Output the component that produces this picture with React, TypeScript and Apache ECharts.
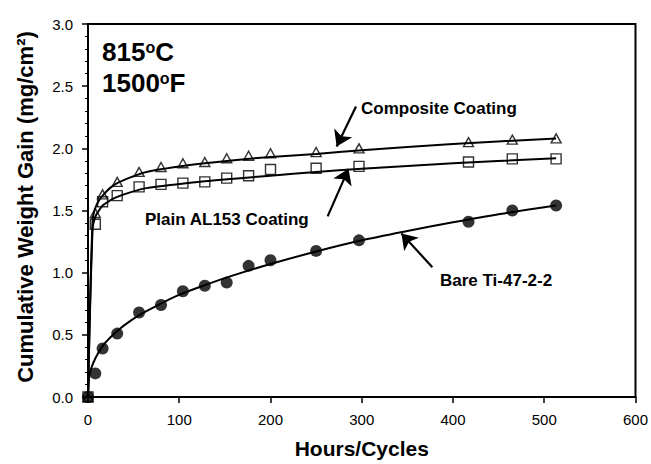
import React, { useEffect, useRef } from "react";
import * as echarts from "echarts";

// Measured points (hours/cycles)
const hours = [0, 8, 16, 32, 56, 80, 104, 128, 152, 176, 200, 250, 297, 417, 465, 513];
const composite = [0, 1.48, 1.63, 1.73, 1.81, 1.85, 1.88, 1.89, 1.92, 1.94, 1.96, 1.97, 2.0, 2.05, 2.07, 2.08];
const plain = [0, 1.39, 1.57, 1.62, 1.69, 1.71, 1.72, 1.73, 1.76, 1.78, 1.83, 1.84, 1.855, 1.89, 1.915, 1.915];
const bare = [0, 0.19, 0.39, 0.51, 0.68, 0.74, 0.85, 0.895, 0.92, 1.055, 1.1, 1.175, 1.26, 1.41, 1.5, 1.54];

// Fitted curves
const coatFitHours = [0, 5, 8, 12, 16, 24, 32, 48, 64, 96, 128, 160, 200, 250, 300, 400, 513];
const compositeFit = [0, 1.42, 1.52, 1.58, 1.62, 1.68, 1.72, 1.77, 1.81, 1.85, 1.88, 1.905, 1.93, 1.955, 1.985, 2.035, 2.08];
const plainFit = [0, 1.35, 1.45, 1.5, 1.54, 1.58, 1.61, 1.65, 1.68, 1.71, 1.735, 1.755, 1.78, 1.81, 1.835, 1.88, 1.92];
const bareFitHours = [0, 1, 2, 4, 8, 16, 32, 48, 64, 96, 128, 160, 200, 250, 300, 350, 400, 450, 513];
const bareFit = [0, 0.14, 0.19, 0.24, 0.31, 0.41, 0.53, 0.62, 0.69, 0.81, 0.9, 0.98, 1.07, 1.17, 1.26, 1.335, 1.405, 1.47, 1.54];

// Annotation arrows [tailX, tailY, tipX, tipY] in data units
const arrowComposite = [293.7, 2.337, 272.5, 2.015];
const arrowPlain = [262.6, 1.453, 285.5, 1.835];
const arrowBare = [377.4, 1.044, 343.5, 1.315];

const xTicks = { min: 0, max: 600, interval: 100 };
const yTicks = { min: 0, max: 3, interval: 0.5 };

const FONT = "'Liberation Sans', Arial, Helvetica, sans-serif";

const zip = (xs: number[], ys: number[]) => xs.map((x, i) => [x, ys[i]]);
const arrow = (a: number[]) => [{ coord: [a[0], a[1]] }, { coord: [a[2], a[3]] }];

export default function App() {
  const ref = useRef<HTMLDivElement>(null);
  useEffect(() => {
    if (!ref.current) return;
    const chart = echarts.init(ref.current, undefined, { renderer: "svg" });
    const fitLine = (name: string, data: number[][]) => ({
      name,
      type: "line",
      data,
      showSymbol: false,
      symbol: "none",
      smooth: 0.3,
      lineStyle: { color: "#000", width: 2 },
      z: 2,
      silent: true,
    });
    const rich = {
      n: { fontSize: 26, fontWeight: "bold", fontFamily: FONT, fill: "#000" },
      s: { fontSize: 16, fontWeight: "bold", fontFamily: FONT, fill: "#000", verticalAlign: "top" },
    };
    chart.setOption({
      animation: false,
      backgroundColor: "#fff",
      textStyle: { fontFamily: FONT },
      grid: {
        left: 88,
        right: 14,
        top: 24,
        bottom: 60,
        show: true,
        borderColor: "#000",
        borderWidth: 2,
        backgroundColor: "transparent",
      },
      xAxis: {
        type: "value",
        min: xTicks.min,
        max: xTicks.max,
        interval: xTicks.interval,
        name: "Hours/Cycles",
        nameLocation: "middle",
        nameGap: 41,
        nameTextStyle: { fontSize: 21, fontWeight: "bold", color: "#000", fontFamily: FONT },
        axisLine: { show: true, lineStyle: { color: "#000", width: 2 } },
        axisTick: { show: true, length: 6, lineStyle: { color: "#000", width: 1.5 } },
        axisLabel: { color: "#000", fontSize: 15, margin: 15, fontFamily: FONT },
        splitLine: { show: false },
      },
      yAxis: {
        type: "value",
        min: yTicks.min,
        max: yTicks.max,
        interval: yTicks.interval,
        name: "Cumulative Weight Gain (mg/cm²)",
        nameLocation: "middle",
        nameGap: 52,
        nameTextStyle: {
          fontSize: 22,
          fontWeight: "bold",
          color: "#000",
          fontFamily: FONT,
          padding: [0, 0, 0, 7],
        },
        axisLine: { show: true, lineStyle: { color: "#000", width: 2 } },
        axisTick: { show: true, length: 6, lineStyle: { color: "#000", width: 1.5 } },
        minorTick: { show: true, splitNumber: 5, length: 3, lineStyle: { color: "#000", width: 1 } },
        axisLabel: {
          color: "#000",
          fontSize: 15,
          margin: 15,
          fontFamily: FONT,
          formatter: (v: number) => v.toFixed(1),
        },
        splitLine: { show: false },
      },
      graphic: [
        {
          type: "text",
          left: 102,
          top: 39,
          z: 10,
          style: { text: "{n|815}{s|o}{n|C}", rich },
        },
        {
          type: "text",
          left: 102,
          top: 70,
          z: 10,
          style: { text: "{n|1500}{s|o}{n|F}", rich },
        },
        {
          type: "text",
          left: 361,
          top: 100,
          z: 10,
          style: { text: "Composite Coating", font: `bold 17px ${FONT}`, fill: "#000" },
        },
        {
          type: "text",
          left: 145,
          top: 211,
          z: 10,
          style: { text: "Plain AL153 Coating", font: `bold 17px ${FONT}`, fill: "#000" },
        },
        {
          type: "text",
          left: 440,
          top: 272,
          z: 10,
          style: { text: "Bare Ti-47-2-2", font: `bold 17px ${FONT}`, fill: "#000" },
        },
      ],
      series: [
        fitLine("Composite fit", zip(coatFitHours, compositeFit)),
        fitLine("Plain fit", zip(coatFitHours, plainFit)),
        fitLine("Bare fit", zip(bareFitHours, bareFit)),
        {
          name: "Composite Coating",
          type: "scatter",
          data: zip(hours, composite),
          symbol: "triangle",
          symbolSize: [10, 9],
          itemStyle: { color: "transparent", borderColor: "#000", borderWidth: 1.4 },
          z: 3,
        },
        {
          name: "Plain AL153 Coating",
          type: "scatter",
          data: zip(hours, plain),
          symbol: "rect",
          symbolSize: 10,
          itemStyle: { color: "transparent", borderColor: "#000", borderWidth: 1.4 },
          z: 3,
        },
        {
          name: "Bare Ti-47-2-2",
          type: "scatter",
          data: zip(hours, bare),
          symbol: "circle",
          symbolSize: 12,
          itemStyle: { color: "#000" },
          z: 3,
          markLine: {
            silent: true,
            symbol: ["none", "arrow"],
            symbolSize: 15,
            label: { show: false },
            lineStyle: { color: "#000", width: 2.2, type: "solid" },
            emphasis: { disabled: true },
            data: [arrow(arrowComposite), arrow(arrowPlain), arrow(arrowBare)],
          },
        },
      ],
    });
    return () => chart.dispose();
  }, []);
  return (
    <div
      ref={ref}
      style={{ position: "fixed", left: 0, top: 0, width: 651, height: 464, background: "#fff" }}
    />
  );
}
